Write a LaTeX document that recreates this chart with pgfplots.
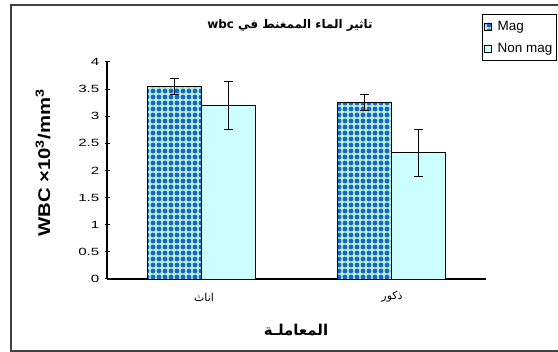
\documentclass[border=0pt]{standalone}
\usepackage{fontspec}
\setmainfont{Liberation Sans}
\newfontfamily\arabicfont[Script=Arabic]{DejaVu Sans}
\TeXXeTstate=1
\usepackage{pgfplots}
\pgfplotsset{compat=1.18}
\usetikzlibrary{patterns}
\pgfdeclarepatternformonly{bigdots}{\pgfqpoint{-1bp}{-1bp}}{\pgfqpoint{7bp}{7bp}}{\pgfqpoint{6bp}{6bp}}{\pgfpathcircle{\pgfqpoint{3bp}{3bp}}{2.4bp}\pgfusepath{fill}}
\definecolor{magbg}{HTML}{B8F0D0}
\definecolor{magdot}{HTML}{1565D0}
\definecolor{nonmag}{HTML}{CCFFFF}
\definecolor{framec}{HTML}{404040}
\begin{document}
\begin{tikzpicture}
\useasboundingbox (0,0) rectangle (558bp,352bp);
\draw[overlay, line width=1.3bp, framec] (600bp,1bp) -- (11bp,1bp) -- (11bp,347bp) -- (600bp,347bp);
\begin{axis}[
  at={(107bp,73bp)}, anchor=south west,
  scale only axis, width=379bp, height=217bp,
  xmin=-0.5, xmax=1.5, ymin=0, ymax=4,
  axis x line*=bottom, axis y line*=left,
  axis line style={line width=1.6bp, black, -},
  ybar=0pt, bar width=54bp,
  xtick={0,1}, xticklabels={}, major x tick style={draw=none},
  extra x ticks={-0.5,0.5,1.5}, extra x tick labels={},
  extra x tick style={tick style={line width=1.2bp, black}, major tick length=6bp, tick align=outside},
  ytick={0,0.5,...,4},
  yticklabels={0,0.5,1,1.5,2,2.5,3,3.5,4},
  y tick style={line width=1bp, black}, major tick length=5bp, ytick align=center,
  y tick label style={font=\fontsize{10.5}{12}\selectfont, xscale=1.45, xshift=0bp},
  /pgf/number format/assume math mode=true,
  legend style={overlay, at={(rel axis cs:0.989,1.22)}, anchor=north west, draw=black, line width=0.6bp,
    font=\fontsize{13.5}{15}\selectfont, row sep=7.5bp, inner xsep=2bp, inner ysep=4.5bp,
    legend cell align=left, nodes={xscale=1.0},
    /tikz/every odd column/.append style={column sep=4bp}},
  legend image code/.code={\draw[#1, line width=0.6bp] (1bp,-3.5bp) rectangle (8bp,3.5bp);},
  clip=false,
]
\addplot[draw=black, line width=0.6bp, fill=magbg, postaction={pattern=bigdots, pattern color=magdot},
  error bars/.cd, y dir=both, y explicit, error bar style={line width=0.8bp, black}, error mark options={rotate=90, line width=0.8bp, black, mark size=4.5bp}]
  coordinates {(0,3.55) +- (0,0.15) (1,3.25) +- (0,0.15)};
\addplot[draw=black, line width=0.6bp, fill=nonmag,
  error bars/.cd, y dir=both, y explicit, error bar style={line width=0.8bp, black}, error mark options={rotate=90, line width=0.8bp, black, mark size=4.5bp}]
  coordinates {(0,3.20) +- (0,0.445) (1,2.33) +- (0,0.435)};
\legend{Mag, Non mag}
\end{axis}
\node[font=\arabicfont\fontsize{11}{13}\selectfont] at (204bp,55bp) {\beginR اناث\endR};
\node[font=\arabicfont\fontsize{11}{13}\selectfont] at (392bp,55bp) {\beginR ذكور\endR};
\node[font=\arabicfont\bfseries\fontsize{15}{17}\selectfont] at (296bp,22bp) {\beginR المعاملـة\endR};
\node[font=\arabicfont\bfseries\fontsize{12}{14}\selectfont] at (290bp,327bp) {\beginR تاثير الماء الممغنط في \beginL wbc\endL\endR};
\node[rotate=90, xscale=1.2, font=\bfseries\fontsize{17}{19}\selectfont] at (43bp,189bp) {WBC ×10\textsuperscript{3}/mm\textsuperscript{3}};
\end{tikzpicture}
\end{document}
